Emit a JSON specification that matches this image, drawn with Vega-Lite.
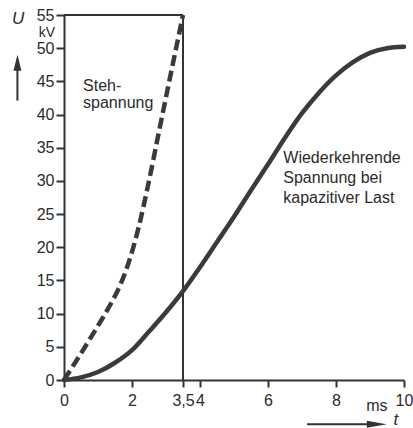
{
  "$schema": "https://vega.github.io/schema/vega-lite/v6.json",
  "width": 340,
  "height": 365,
  "autosize": "none",
  "padding": {"left": 64, "top": 15, "right": 9, "bottom": 48},
  "background": "white",
  "config": {
    "view": {"stroke": null},
    "font": "Liberation Sans",
    "axis": {
      "domainColor": "#333333",
      "domainWidth": 2,
      "tickColor": "#333333",
      "tickWidth": 2,
      "labelColor": "#2b2b2b",
      "labelFont": "Liberation Sans",
      "labelFontSize": 16,
      "grid": false,
      "title": null
    }
  },
  "datasets": {
    "solid": [
      {"x": 0, "y": 0}, {"x": 0.5, "y": 0.4}, {"x": 1, "y": 1.2}, {"x": 1.5, "y": 2.6},
      {"x": 2, "y": 4.5}, {"x": 2.5, "y": 7.3}, {"x": 3, "y": 10.2}, {"x": 3.5, "y": 13.4},
      {"x": 4, "y": 17}, {"x": 4.5, "y": 20.8}, {"x": 5, "y": 24.6}, {"x": 5.5, "y": 28.6},
      {"x": 6, "y": 32.5}, {"x": 6.5, "y": 36.5}, {"x": 7, "y": 40.2}, {"x": 7.5, "y": 43.3},
      {"x": 8, "y": 45.9}, {"x": 8.5, "y": 47.9}, {"x": 9, "y": 49.3}, {"x": 9.5, "y": 50},
      {"x": 10, "y": 50.2}
    ],
    "dashed": [
      {"x": 0, "y": 0}, {"x": 0.4, "y": 3.2}, {"x": 0.8, "y": 6.5}, {"x": 1.2, "y": 9.9},
      {"x": 1.42, "y": 11.9}, {"x": 1.6, "y": 13.7}, {"x": 1.8, "y": 16.2}, {"x": 2.0, "y": 19.3},
      {"x": 2.2, "y": 23.1}, {"x": 2.45, "y": 28.8}, {"x": 2.8, "y": 37.6}, {"x": 3.2, "y": 47.6},
      {"x": 3.5, "y": 55}
    ],
    "frame": [
      {"x": 0, "x2": 3.5, "y": 55, "y2": 55},
      {"x": 3.5, "x2": 3.5, "y": 0, "y2": 55}
    ],
    "shafts": [
      {"x": -1.37, "x2": -1.37, "y": 42.1, "y2": 48.0},
      {"x": 7.15, "x2": 9.2, "y": -6.65, "y2": -6.65}
    ]
  },
  "encoding": {
    "x": {
      "field": "x", "type": "quantitative",
      "scale": {"domain": [0, 10], "nice": false, "zero": false},
      "axis": {
        "values": [0, 2, 3.5, 4, 6, 8, 10],
        "labelExpr": "datum.value == 3.5 ? '3,5' : datum.label",
        "tickSize": 7, "labelPadding": 5, "labelFlush": false, "labelOverlap": false
      }
    },
    "y": {
      "field": "y", "type": "quantitative",
      "scale": {"domain": [0, 55], "nice": false, "zero": false},
      "axis": {
        "values": [0, 5, 10, 15, 20, 25, 30, 35, 40, 45, 50, 55],
        "tickSize": 8, "labelPadding": 2, "labelFlush": false, "labelOverlap": false
      }
    }
  },
  "layer": [
    {
      "data": {"name": "frame"},
      "mark": {"type": "rule", "color": "#333333", "strokeWidth": 2},
      "encoding": {"x2": {"field": "x2"}, "y2": {"field": "y2"}}
    },
    {
      "data": {"name": "solid"},
      "mark": {"type": "line", "color": "#3a3a3a", "strokeWidth": 4.5, "interpolate": "monotone", "strokeCap": "round"},
      "encoding": {}
    },
    {
      "data": {"name": "dashed"},
      "mark": {"type": "line", "color": "#3a3a3a", "strokeWidth": 4.5, "interpolate": "monotone", "strokeDash": [11, 5]},
      "encoding": {}
    },
    {
      "data": {"name": "shafts"},
      "mark": {"type": "rule", "color": "#333333", "strokeWidth": 2},
      "encoding": {"x2": {"field": "x2"}, "y2": {"field": "y2"}}
    },
    {
      "data": {"values": [{"x": -1.37, "y": 47.8}]},
      "mark": {"type": "point", "shape": "M-0.5,1L0,-1L0.5,1Z", "size": 256, "filled": true, "color": "#333333", "opacity": 1}
    },
    {
      "data": {"values": [{"x": 9.2, "y": -6.65}]},
      "mark": {"type": "point", "shape": "M-1,-0.35L1,0L-1,0.35Z", "size": 400, "filled": true, "color": "#333333", "opacity": 1}
    },
    {
      "data": {"values": [{"x": -1.35, "y": 54.4, "text": "U"}, {"x": 9.76, "y": -6.1, "text": "t"}]},
      "mark": {"type": "text", "font": "Liberation Sans", "fontStyle": "italic", "fontSize": 17, "align": "center", "baseline": "middle", "color": "#2b2b2b"},
      "encoding": {"text": {"field": "text"}}
    },
    {
      "data": {"values": [{"x": -0.26, "y": 52.35, "text": "kV"}]},
      "mark": {"type": "text", "font": "Liberation Sans", "fontSize": 14, "align": "right", "baseline": "middle", "color": "#2b2b2b"},
      "encoding": {"text": {"field": "text"}}
    },
    {
      "data": {"values": [{"x": 9.2, "y": -4.7, "text": "ms"}]},
      "mark": {"type": "text", "font": "Liberation Sans", "fontSize": 16, "align": "center", "baseline": "alphabetic", "color": "#2b2b2b"},
      "encoding": {"text": {"field": "text"}}
    },
    {
      "data": {"values": [{"x": 0.56, "y": 45.5, "text": "Steh-\nspannung"}]},
      "mark": {"type": "text", "font": "Liberation Sans", "fontSize": 16, "align": "left", "baseline": "top", "lineBreak": "\n", "lineHeight": 17, "color": "#2b2b2b"},
      "encoding": {"text": {"field": "text"}}
    },
    {
      "data": {"values": [{"x": 6.45, "y": 34.7, "text": "Wiederkehrende\nSpannung bei\nkapazitiver Last"}]},
      "mark": {"type": "text", "font": "Liberation Sans", "fontSize": 16, "align": "left", "baseline": "top", "lineBreak": "\n", "lineHeight": 20, "color": "#2b2b2b"},
      "encoding": {"text": {"field": "text"}}
    }
  ]
}
